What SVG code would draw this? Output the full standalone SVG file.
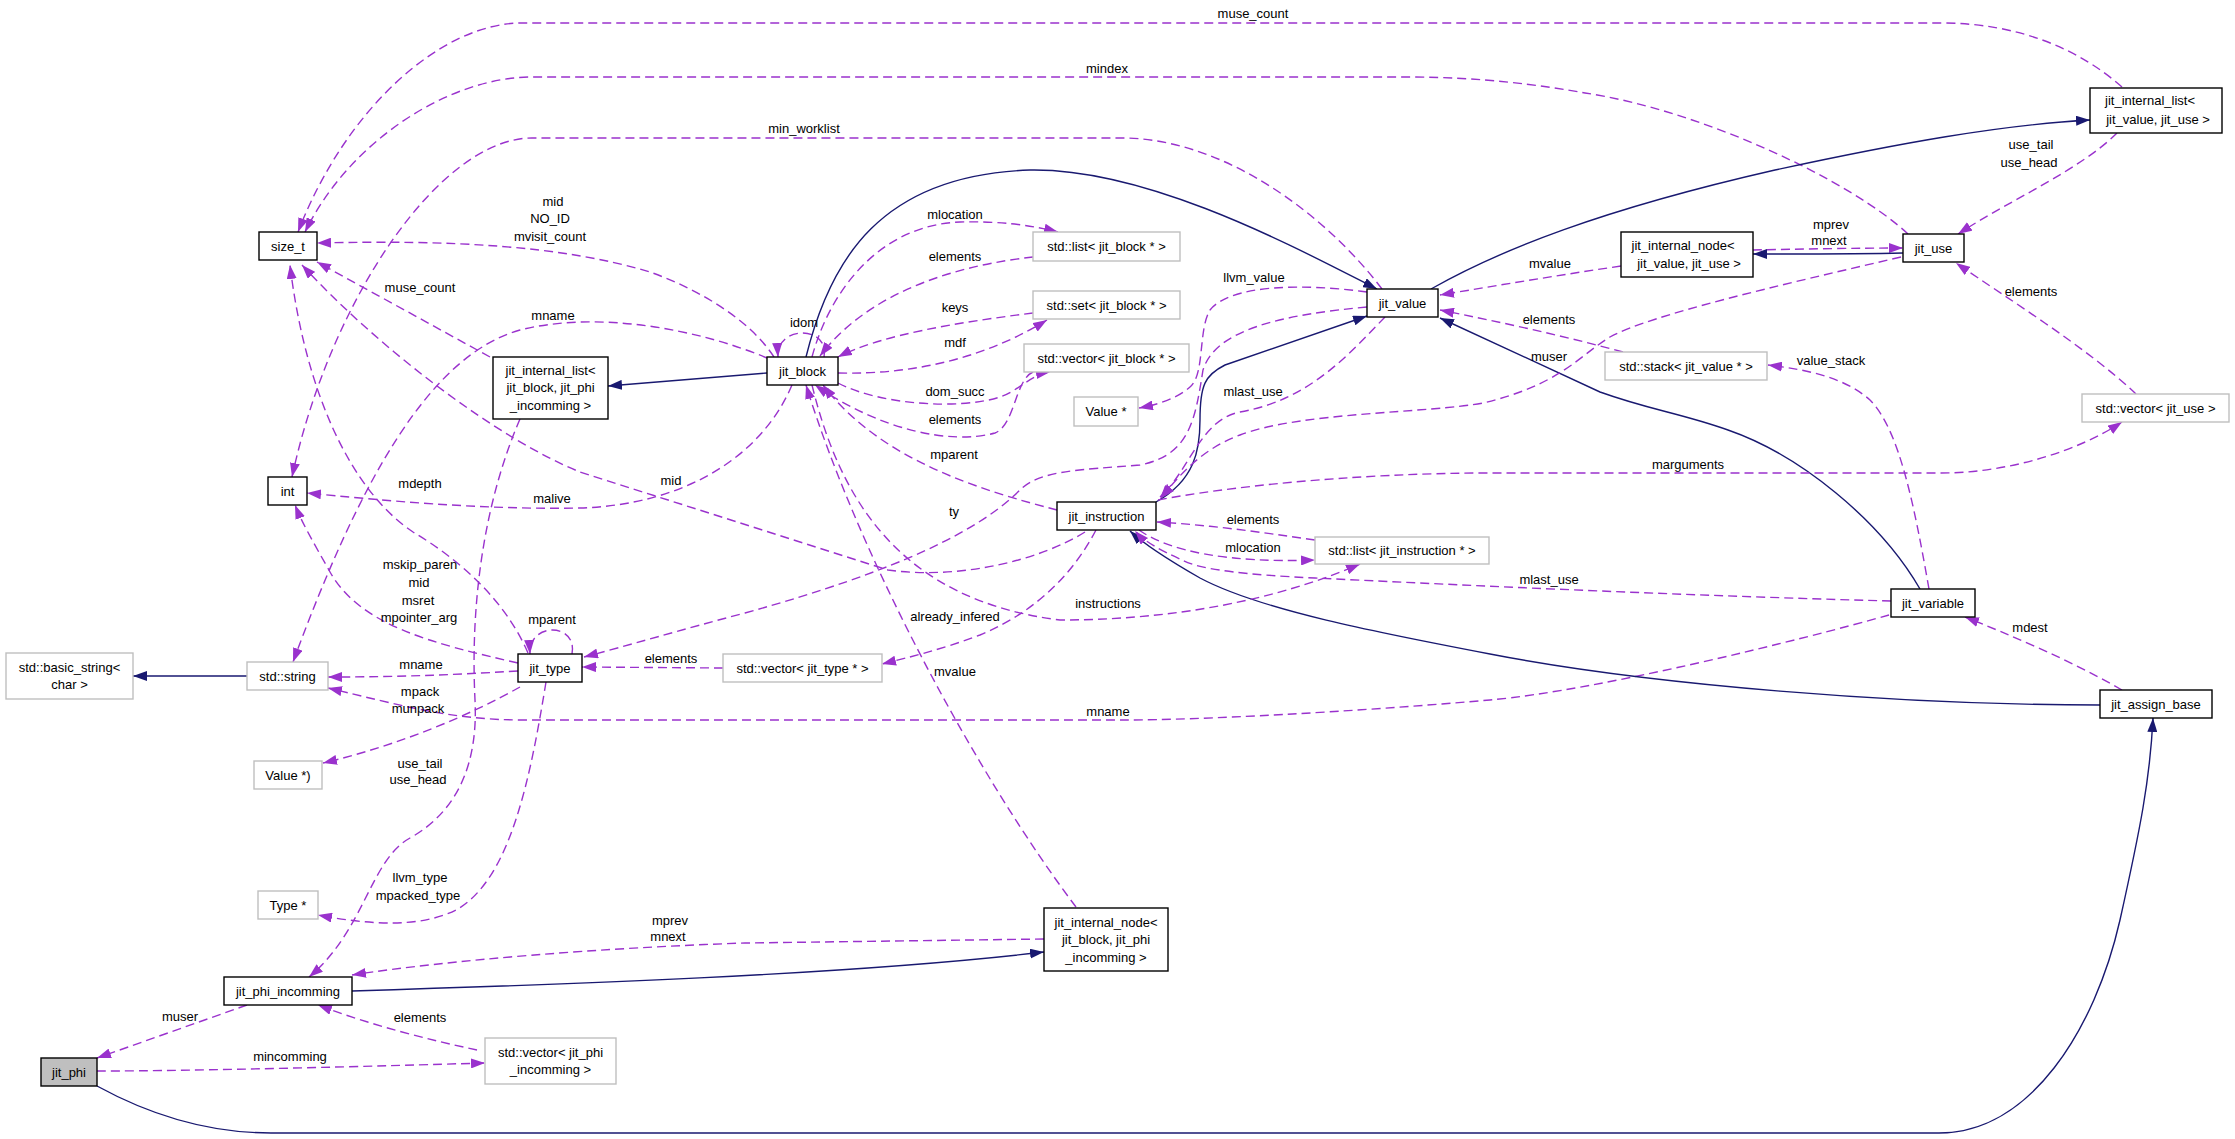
<svg xmlns="http://www.w3.org/2000/svg" width="2235" height="1139" viewBox="0 0 2235 1139">
<style>
text{font-family:"Liberation Sans",Arial,Helvetica,sans-serif;font-size:13px;fill:#000}
.node text{text-anchor:middle}
.node rect{fill:#fff;stroke:#000;stroke-width:1.4}
.node.u rect{stroke:#bfbfbf}
.node.cur rect{fill:#bfbfbf}
.e{fill:none;stroke:#9a32cd;stroke-width:1.4;stroke-dasharray:9,5;marker-end:url(#ap)}
.s{fill:none;stroke:#191970;stroke-width:1.4;marker-end:url(#ab)}
.lbl text{text-anchor:middle}
</style>
<defs>
<marker id="ap" viewBox="0 0 14 10" refX="14" refY="5" markerWidth="14" markerHeight="10" markerUnits="userSpaceOnUse" orient="auto"><path d="M0,0L14,5L0,10z" fill="#9a32cd"/></marker>
<marker id="ab" viewBox="0 0 14 10" refX="14" refY="5" markerWidth="14" markerHeight="10" markerUnits="userSpaceOnUse" orient="auto"><path d="M0,0L14,5L0,10z" fill="#191970"/></marker>
</defs>
<rect width="2235" height="1139" fill="#fff"/>
<g id="edges">
<path class="e" d="M2122,87 C2080,50 2020,23 1941,23 L522,23 C440,23 345,110 298,232"/>
<path class="e" d="M1908,234 C1850,180 1700,110 1585,93 C1540,85 1480,77 1410,77 L532,77 C450,77 350,140 305,232"/>
<path class="e" d="M1382,289 C1330,220 1230,140 1125,138 L532,138 C440,138 330,300 292,477"/>
<path class="e" d="M774,357 C750,320 700,290 650,272 C560,245 450,240 317,243"/>
<path class="e" d="M824,357 C830,325 776,325 778,357"/>
<path class="e" d="M490,357 L317,262"/>
<path class="e" d="M767,358 C700,330 600,310 520,330 C430,355 360,480 293,662"/>
<path class="e" d="M792,385 C760,460 680,505 580,508 C480,510 380,500 307,493"/>
<path class="e" d="M1085,532 C1040,560 960,580 888,570 L580,472 C500,440 380,350 302,265"/>
<path class="e" d="M528,653 C505,600 460,560 413,532 C350,490 305,390 290,265"/>
<path class="e" d="M572,654 C578,622 528,622 530,654"/>
<path class="e" d="M518,663 C430,643 360,625 330,572 C315,545 303,525 295,505"/>
<path class="e" d="M518,671 C450,675 400,677 328,677"/>
<path class="e" d="M1889,615 C1800,640 1600,690 1490,700 C1350,712 1200,720 1125,720 L523,720 C450,720 400,705 328,688"/>
<path class="e" d="M520,687 C470,715 400,745 323,763"/>
<path class="e" d="M546,682 C530,780 510,880 456,910 C420,928 370,925 318,915"/>
<path class="e" d="M520,419 C485,500 470,600 475,700 C478,760 460,810 410,838 C370,860 365,930 309,977"/>
<path class="e" d="M1044,939 L745,943 C600,948 450,960 352,975"/>
<path class="s" d="M352,991 C550,985 850,975 1044,952"/>
<path class="e" d="M247,1005 L97,1058"/>
<path class="e" d="M477,1050 C430,1040 370,1025 318,1005"/>
<path class="e" d="M97,1071 C200,1071 380,1066 485,1063"/>
<path class="s" d="M97,1086 C150,1115 210,1133 271,1133 L1939,1133 C2030,1133 2095,1030 2120,920 C2140,830 2150,780 2153,718"/>
<path class="s" d="M2100,705 C1900,705 1650,685 1490,654 C1380,633 1260,610 1200,578 C1165,558 1145,545 1130,531"/>
<path class="s" d="M1156,502 C1195,480 1200,450 1200,420 C1200,385 1205,375 1225,365 L1367,316"/>
<path class="s" d="M1920,589 C1880,520 1800,455 1728,430 C1680,413 1650,410 1600,392 L1440,318"/>
<path class="s" d="M1431,289 C1500,250 1600,210 1775,170 C1900,143 2000,125 2090,120"/>
<path class="s" d="M806,357 C830,260 880,175 1030,170 C1150,168 1300,250 1377,289"/>
<path class="s" d="M767,373 L608,386"/>
<path class="e" d="M812,357 C830,290 880,225 960,222 C1000,221 1030,225 1058,232"/>
<path class="e" d="M1033,257 C960,265 870,290 820,356"/>
<path class="e" d="M1033,313 C960,322 880,335 838,357"/>
<path class="e" d="M838,373 C920,375 990,355 1047,320"/>
<path class="e" d="M838,383 C880,405 960,410 1000,397 C1020,390 1030,375 1050,372"/>
<path class="e" d="M1033,372 C1015,380 1015,425 995,433 C950,445 880,430 815,385"/>
<path class="e" d="M1057,510 C980,490 880,460 823,385"/>
<path class="e" d="M1076,907 C980,780 860,560 806,385"/>
<path class="e" d="M812,385 C840,500 900,600 1060,620 C1200,620 1300,590 1360,564"/>
<path class="e" d="M1367,307 C1280,315 1215,330 1203,370 C1195,420 1190,455 1140,465 C1080,470 1040,470 1020,490 C980,530 900,570 745,613 C680,630 630,645 584,657"/>
<path class="e" d="M1367,292 C1300,283 1230,285 1210,310 C1198,330 1205,375 1190,387 C1175,400 1155,405 1139,408"/>
<path class="e" d="M1385,317 C1350,353 1310,400 1240,412 C1200,420 1190,470 1160,497"/>
<path class="e" d="M1901,257 C1780,285 1650,315 1610,337 C1580,355 1560,385 1483,403 C1430,413 1300,412 1240,435 C1200,450 1180,475 1160,499"/>
<path class="e" d="M1158,500 C1220,488 1350,473 1490,473 L1941,473 C2010,473 2080,450 2122,422"/>
<path class="e" d="M1315,540 C1260,532 1210,525 1157,522"/>
<path class="e" d="M1139,530 C1170,552 1230,563 1315,560"/>
<path class="e" d="M1891,601 C1700,596 1500,587 1315,578 C1250,575 1200,570 1182,560 C1160,550 1145,542 1135,531"/>
<path class="e" d="M1096,530 C1075,570 1040,610 980,635 C940,650 910,657 882,664"/>
<path class="e" d="M723,668 L582,667"/>
<path class="e" d="M1621,266 C1560,275 1500,285 1440,295"/>
<path class="e" d="M1623,352 C1560,335 1500,322 1440,310"/>
<path class="e" d="M1753,250 C1800,249 1860,248 1903,248"/>
<path class="s" d="M1903,253 C1860,254 1800,254 1753,254"/>
<path class="e" d="M2117,133 C2080,170 2010,200 1958,234"/>
<path class="e" d="M2136,394 C2090,350 2010,300 1956,263"/>
<path class="e" d="M1929,589 C1915,510 1900,430 1870,400 C1845,378 1810,370 1768,365"/>
<path class="e" d="M2122,690 C2070,660 2010,635 1965,617"/>
<path class="s" d="M247,676 L133,676"/>
</g>
<g id="labels" class="lbl">
<text x="1253" y="18">muse_count</text>
<text x="1107" y="73">mindex</text>
<text x="804" y="133">min_worklist</text>
<text x="553" y="206">mid</text>
<text x="550" y="223">NO_ID</text>
<text x="550" y="241">mvisit_count</text>
<text x="420" y="292">muse_count</text>
<text x="553" y="320">mname</text>
<text x="955" y="219">mlocation</text>
<text x="955" y="261">elements</text>
<text x="955" y="312">keys</text>
<text x="804" y="327">idom</text>
<text x="955" y="347">mdf</text>
<text x="955" y="396">dom_succ</text>
<text x="955" y="424">elements</text>
<text x="954" y="459">mparent</text>
<text x="954" y="516">ty</text>
<text x="1254" y="282">llvm_value</text>
<text x="1253" y="396">mlast_use</text>
<text x="1253" y="524">elements</text>
<text x="1253" y="552">mlocation</text>
<text x="1108" y="608">instructions</text>
<text x="955" y="621">already_infered</text>
<text x="955" y="676">mvalue</text>
<text x="1108" y="716">mname</text>
<text x="2031" y="149">use_tail</text>
<text x="2029" y="167">use_head</text>
<text x="1831" y="229">mprev</text>
<text x="1829" y="245">mnext</text>
<text x="1550" y="268">mvalue</text>
<text x="1549" y="324">elements</text>
<text x="1549" y="361">muser</text>
<text x="2031" y="296">elements</text>
<text x="1831" y="365">value_stack</text>
<text x="1688" y="469">marguments</text>
<text x="1549" y="584">mlast_use</text>
<text x="2030" y="632">mdest</text>
<text x="420" y="488">mdepth</text>
<text x="552" y="503">malive</text>
<text x="671" y="485">mid</text>
<text x="420" y="569">mskip_paren</text>
<text x="419" y="587">mid</text>
<text x="418" y="605">msret</text>
<text x="419" y="622">mpointer_arg</text>
<text x="552" y="624">mparent</text>
<text x="421" y="669">mname</text>
<text x="671" y="663">elements</text>
<text x="420" y="696">mpack</text>
<text x="418" y="713">munpack</text>
<text x="420" y="768">use_tail</text>
<text x="418" y="784">use_head</text>
<text x="420" y="882">llvm_type</text>
<text x="418" y="900">mpacked_type</text>
<text x="670" y="925">mprev</text>
<text x="668" y="941">mnext</text>
<text x="180" y="1021">muser</text>
<text x="420" y="1022">elements</text>
<text x="290" y="1061">mincomming</text>
</g>
<g id="n_size_t" class="node"><rect x="259" y="232" width="58" height="28"/><text x="288" y="250.5">size_t</text></g>
<g id="n_int" class="node"><rect x="268" y="477" width="39" height="28"/><text x="287.5" y="495.5">int</text></g>
<g id="n_basic_string" class="node u"><rect x="6" y="653" width="127" height="46"/><text x="69.5" y="672">std::basic_string&lt;</text><text x="69.5" y="689">char &gt;</text></g>
<g id="n_string" class="node u"><rect x="247" y="662" width="81" height="28"/><text x="287.5" y="680.5">std::string</text></g>
<g id="n_jit_type" class="node"><rect x="518" y="654" width="64" height="28"/><text x="550" y="672.5">jit_type</text></g>
<g id="n_value_ptr2" class="node u"><rect x="254" y="761" width="68" height="28"/><text x="288" y="779.5">Value *)</text></g>
<g id="n_type_ptr" class="node u"><rect x="258" y="891" width="60" height="28"/><text x="288" y="909.5">Type *</text></g>
<g id="n_jit_phi_incomming" class="node"><rect x="224" y="977" width="128" height="28"/><text x="288" y="995.5">jit_phi_incomming</text></g>
<g id="n_jit_phi" class="node cur"><rect x="41" y="1058" width="56" height="28"/><text x="69" y="1076.5">jit_phi</text></g>
<g id="n_vec_phi" class="node u"><rect x="485" y="1038" width="131" height="46"/><text x="550.5" y="1057">std::vector&lt; jit_phi</text><text x="550.5" y="1074">_incomming &gt;</text></g>
<g id="n_inode_block" class="node"><rect x="1044" y="908" width="124" height="63"/><text x="1106" y="927">jit_internal_node&lt;</text><text x="1106" y="944">jit_block, jit_phi</text><text x="1106" y="962">_incomming &gt;</text></g>
<g id="n_ilist_block" class="node"><rect x="493" y="357" width="115" height="62"/><text x="550.5" y="375">jit_internal_list&lt;</text><text x="550.5" y="392">jit_block, jit_phi</text><text x="550.5" y="410">_incomming &gt;</text></g>
<g id="n_jit_block" class="node"><rect x="767" y="357" width="71" height="28"/><text x="802.5" y="375.5">jit_block</text></g>
<g id="n_list_block" class="node u"><rect x="1033" y="232" width="147" height="29"/><text x="1106.5" y="251">std::list&lt; jit_block * &gt;</text></g>
<g id="n_set_block" class="node u"><rect x="1033" y="291" width="147" height="28"/><text x="1106.5" y="309.5">std::set&lt; jit_block * &gt;</text></g>
<g id="n_vec_block" class="node u"><rect x="1024" y="344" width="165" height="28"/><text x="1106.5" y="362.5">std::vector&lt; jit_block * &gt;</text></g>
<g id="n_value_ptr" class="node u"><rect x="1074" y="397" width="64" height="29"/><text x="1106" y="416">Value *</text></g>
<g id="n_jit_value" class="node"><rect x="1367" y="289" width="71" height="28"/><text x="1402.5" y="307.5">jit_value</text></g>
<g id="n_jit_instruction" class="node"><rect x="1057" y="502" width="99" height="28"/><text x="1106.5" y="520.5">jit_instruction</text></g>
<g id="n_list_instr" class="node u"><rect x="1315" y="537" width="174" height="27"/><text x="1402" y="555">std::list&lt; jit_instruction * &gt;</text></g>
<g id="n_vec_type" class="node u"><rect x="723" y="654" width="159" height="28"/><text x="802.5" y="672.5">std::vector&lt; jit_type * &gt;</text></g>
<g id="n_ilist_value" class="node"><rect x="2090" y="88" width="132" height="45"/><text x="2150" y="105">jit_internal_list&lt;</text><text x="2158" y="124">jit_value, jit_use &gt;</text></g>
<g id="n_jit_use" class="node"><rect x="1903" y="234" width="61" height="28"/><text x="1933.5" y="252.5">jit_use</text></g>
<g id="n_inode_value" class="node"><rect x="1621" y="232" width="132" height="45"/><text x="1683" y="250">jit_internal_node&lt;</text><text x="1689" y="268">jit_value, jit_use &gt;</text></g>
<g id="n_stack_value" class="node u"><rect x="1605" y="352" width="162" height="28"/><text x="1686" y="370.5">std::stack&lt; jit_value * &gt;</text></g>
<g id="n_vec_use" class="node u"><rect x="2082" y="394" width="147" height="28"/><text x="2155.5" y="412.5">std::vector&lt; jit_use &gt;</text></g>
<g id="n_jit_variable" class="node"><rect x="1891" y="589" width="84" height="28"/><text x="1933" y="607.5">jit_variable</text></g>
<g id="n_jit_assign_base" class="node"><rect x="2100" y="690" width="112" height="28"/><text x="2156" y="708.5">jit_assign_base</text></g>
</svg>
